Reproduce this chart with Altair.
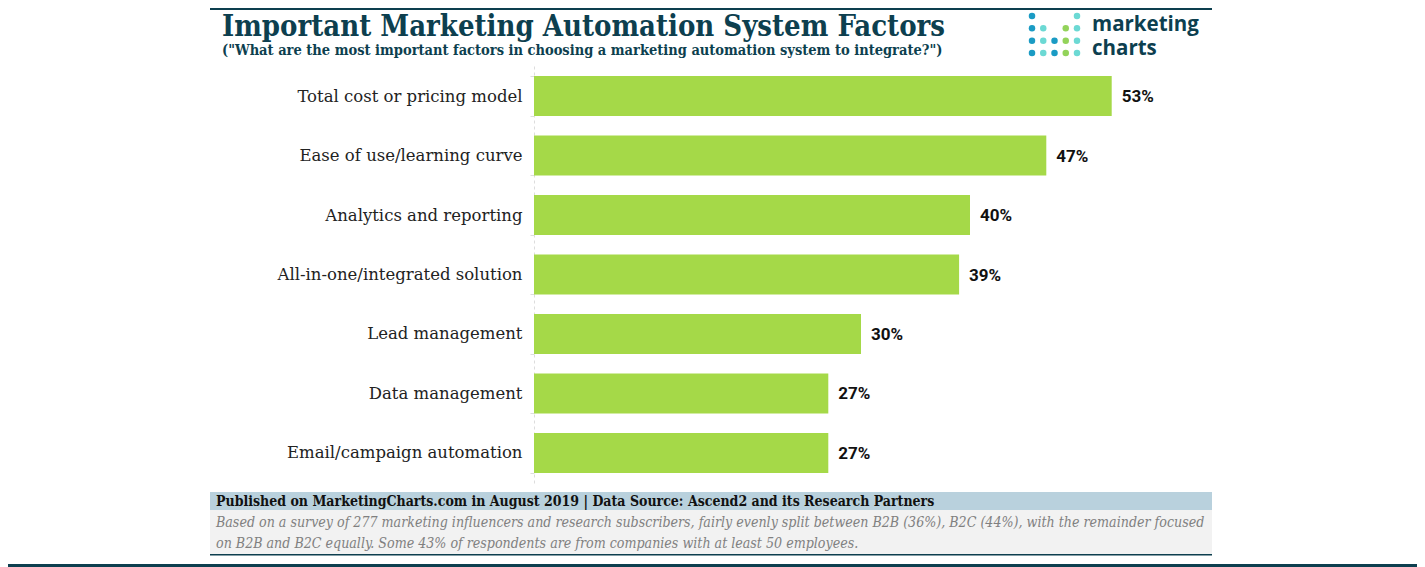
import altair as alt
import pandas as pd

factors = [
    "Total cost or pricing model",
    "Ease of use/learning curve",
    "Analytics and reporting",
    "All-in-one/integrated solution",
    "Lead management",
    "Data management",
    "Email/campaign automation",
]
values = [53, 47, 40, 39, 30, 27, 27]

title_text = "Important Marketing Automation System Factors"
subtitle_text = '("What are the most important factors in choosing a marketing automation system to integrate?")'
published_text = "Published on MarketingCharts.com in August 2019 | Data Source: Ascend2 and its Research Partners"
note_line1 = ("Based on a survey of 277 marketing influencers and research subscribers, fairly evenly split "
              "between B2B (36%), B2C (44%), with the remainder focused")
note_line2 = "on B2B and B2C equally. Some 43% of respondents are from companies with at least 50 employees."
logo_lines = ["marketing", "charts"]

# logo dot grid (column index, row index, colour)
logo_cols = [0, 4, 0, 1, 3, 4, 0, 1, 2, 3, 4, 0, 1, 2, 3, 4]
logo_rows = [0, 0, 1, 1, 1, 1, 2, 2, 2, 2, 2, 3, 3, 3, 3, 3]
logo_colors = ["#1a9bc4", "#6cd9d4",
               "#1a9bc4", "#6cd9d4", "#93d35a", "#6cd9d4",
               "#1a9bc4", "#6cd9d4", "#1a9bc4", "#93d35a", "#6cd9d4",
               "#1a9bc4", "#6cd9d4", "#1a9bc4", "#93d35a", "#6cd9d4"]

DARK = "#0d3f4f"
SERIF = "DejaVu Serif"
SERIF_C = "DejaVu Serif Condensed, DejaVu Serif"

# page -> chart coordinate helpers (plot origin at page (534, 66))
def px(x):
    return x - 534

def py(y):
    return y - 66

W, H = 654, 417
PAD_L, PAD_T = 526, 58
TOTAL_W, TOTAL_H = 1409, 559

df = pd.DataFrame({"factor": factors, "value": values})

bars = alt.Chart(df).mark_bar(color="#a5d948").encode(
    y=alt.Y("factor:N", sort=factors, title=None,
            scale=alt.Scale(paddingInner=0.33, paddingOuter=0.17),
            axis=alt.Axis(labelFont=SERIF, labelFontSize=16.5, labelColor="#222222",
                          labelPadding=8, labelLimit=500,
                          domainColor="#dddddd", domainDash=[3, 3],
                          ticks=True, tickColor="#dddddd", tickSize=4,
                          tickBand="extent", grid=False)),
    x=alt.X("value:Q", scale=alt.Scale(domain=[0, 60]), axis=None),
)

labels = alt.Chart(df).transform_calculate(
    lab="datum.value + '%'"
).mark_text(align="left", baseline="middle", dx=10, dy=1, font="Roboto",
            fontWeight="bold", fontSize=17, color="#111111").encode(
    y=alt.Y("factor:N", sort=factors),
    x=alt.X("value:Q", scale=alt.Scale(domain=[0, 60])),
    text="lab:N",
)

main = alt.layer(bars, labels)

one = pd.DataFrame({"a": [0]})

def text_layer(txt, x, y, **kw):
    return alt.Chart(one).mark_text(align="left", baseline="alphabetic", **kw).encode(
        x=alt.value(px(x)), y=alt.value(py(y)), text=alt.value(txt))

def rect_layer(x1, x2, y1, y2, color):
    return alt.Chart(one).mark_rect(color=color).encode(
        x=alt.value(px(x1)), x2=alt.value(px(x2)),
        y=alt.value(py(y1)), y2=alt.value(py(y2)))

top_line = rect_layer(210, 1212, 8, 10, DARK)
title = text_layer(title_text, 222, 36, font=SERIF_C, fontWeight="bold",
                   fontSize=29, color=DARK)
subtitle = text_layer(subtitle_text, 222, 55, font=SERIF_C, fontWeight="bold",
                      fontSize=14.5, color=DARK)

logo_df = pd.DataFrame({"col": logo_cols, "row": logo_rows, "c": logo_colors})
logo_dots = alt.Chart(logo_df).mark_circle(size=42, opacity=1).encode(
    x=alt.X("col:Q", scale=alt.Scale(domain=[0, 4], range=[px(1032), px(1077)]), axis=None),
    y=alt.Y("row:Q", scale=alt.Scale(domain=[0, 3], range=[py(16), py(53)]), axis=None),
    color=alt.Color("c:N", scale=None),
)
logo_text = text_layer(logo_lines, 1092, 30.5, font="Open Sans", fontWeight="bold",
                       fontSize=20.5, lineHeight=24.5, color=DARK)

pub_band = rect_layer(210, 1212, 492, 510, "#b9d1dd")
note_box = rect_layer(210, 1212, 510, 554, "#f2f2f2")
note_border = rect_layer(210, 1212, 554, 555.5, DARK)
bottom_band = rect_layer(0, 1425, 564, 567, DARK)

pub = text_layer(published_text, 216, 506, font=SERIF_C, fontWeight="bold",
                 fontSize=14, color="#111111")
note1 = text_layer(note_line1, 216, 527, font=SERIF_C, fontStyle="italic",
                   fontSize=14.1, color="#808080")
note2 = text_layer(note_line2, 216, 548, font=SERIF_C, fontStyle="italic",
                   fontSize=14.1, color="#808080")

chart = alt.layer(
    top_line, pub_band, note_box, note_border, bottom_band,
    main, logo_dots,
    title, subtitle, logo_text, pub, note1, note2,
).resolve_scale(x="independent", y="independent").properties(
    width=W, height=H,
    padding={"left": PAD_L, "top": PAD_T,
             "right": TOTAL_W - PAD_L - W, "bottom": TOTAL_H - PAD_T - H},
    autosize=alt.AutoSizeParams(type="none"),
    background="white",
).configure_view(stroke=None)

chart.save("out.html", embed_options={"renderer": "svg", "actions": False})
